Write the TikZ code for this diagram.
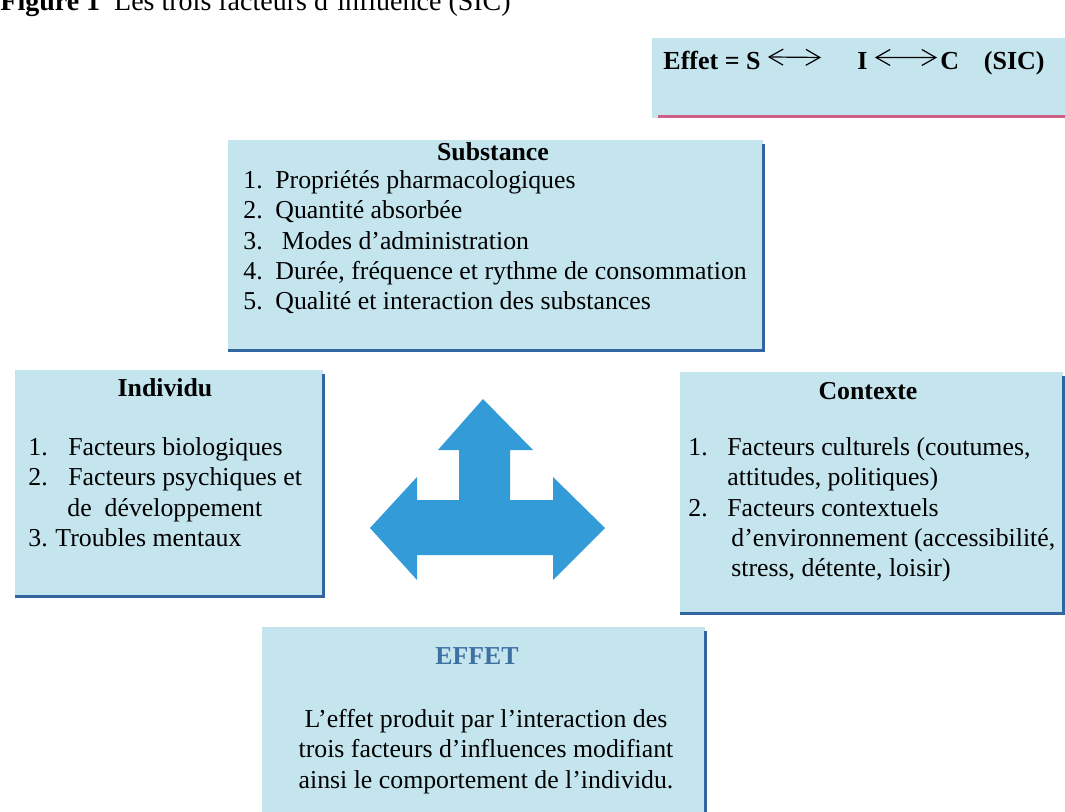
\documentclass[tikz,border=0pt]{standalone}
\usepackage{fontspec}
\setmainfont{Liberation Serif}
\usetikzlibrary{arrows.meta,positioning}

\definecolor{boxfill}{RGB}{196,229,238}
\definecolor{boxedge}{RGB}{50,102,160}
\definecolor{arrowblue}{RGB}{50,155,216}
\definecolor{pinkline}{RGB}{206,96,136}
\definecolor{effetblue}{RGB}{62,112,164}

% numbered line and hanging line
\newcommand{\itm}[3][19.5pt]{\makebox[#1][l]{#2}#3}
\newcommand{\hang}[1][19.5pt]{\hspace*{#1}}

\begin{document}
\begin{tikzpicture}[x=0.5pt,y=-0.5pt,
  txt/.style={font=\fontsize{12.9}{15.2}\selectfont, inner sep=0pt, align=left},
  head/.style={font=\fontsize{12.9}{15}\selectfont\bfseries, inner sep=0pt},
  eqtxt/.style={font=\fontsize{13}{15}\selectfont\bfseries, inner sep=0pt, anchor=base west},
  panel/.style={fill=boxfill, inner sep=0pt, anchor=north west},
  rim/.style={draw=boxedge, line width=1.6pt},
  twoway/.style={{Straight Barb[length=7pt,width=8pt]}-{Straight Barb[length=7pt,width=8pt]}, line width=0.6pt},
]
\useasboundingbox (0,0) rectangle (1065,812);

% title, cut at the top
\node[anchor=base west, inner sep=0pt, font=\fontsize{14}{16}\selectfont] (title) at (0,11)
  {\textbf{Figure 1}\ \ Les trois facteurs d'influence (SIC)};

% formula box
\node[panel, minimum width=206.5pt, minimum height=40pt] (eq) at (652,38) {};
\draw[pinkline, line width=1.6pt] ([xshift=3pt,yshift=1pt]eq.south west) -- ([yshift=1pt]eq.south east);
\node[eqtxt] (effS) at (663,70) {Effet = S};
\node[eqtxt] (symI) at (857,70) {I};
\node[eqtxt] (symC) at (940,70) {C};
\node[eqtxt, anchor=base east] (sic) at (1045,70) {(SIC)};
\draw[twoway] ([xshift=3.5pt,yshift=2pt]effS.east) -- ([xshift=-18pt,yshift=2pt]symI.west);
\draw[twoway] ([xshift=3.5pt,yshift=2pt]symI.east) -- ([xshift=-1.5pt,yshift=2pt]symC.west);

% Substance
\node[panel, minimum width=267.5pt, minimum height=105pt] (subst) at (228,140) {};
\draw[rim] ([yshift=-2pt]subst.north east) -- (subst.south east) -- (subst.south west);
\node[head, anchor=base] (substT) at (493,161) {Substance};
\node[txt, anchor=north west] (substL) at (243,170) {%
  \itm[16pt]{1.}{Propriétés pharmacologiques}\\
  \itm[16pt]{2.}{Quantité absorbée}\\
  \itm[16pt]{3.}{\ Modes d'administration}\\
  \itm[16pt]{4.}{Durée, fréquence et rythme de consommation}\\
  \itm[16pt]{5.}{Qualité et interaction des substances}};

% Individu
\node[panel, minimum width=154pt, minimum height=113pt] (indiv) at (15,370) {};
\draw[rim] ([yshift=-2pt]indiv.north east) -- (indiv.south east) -- (indiv.south west);
\node[head, anchor=base] (indivT) at (165,397) {Individu};
\node[txt, anchor=north west] (indivL) at (28,437) {%
  \itm[20pt]{1.}{Facteurs biologiques}\\
  \itm[20pt]{2.}{Facteurs psychiques et}\\
  \hang[19.5pt]de\ \ développement\\
  \itm[13.5pt]{3.}{Troubles mentaux}};

% Contexte
\node[panel, minimum width=191.5pt, minimum height=120.5pt] (ctx) at (680,372) {};
\draw[rim] ([yshift=-2pt]ctx.north east) -- (ctx.south east) -- (ctx.south west);
\node[head, anchor=base] (ctxT) at (868,400) {Contexte};
\node[txt, anchor=north west] (ctxL) at (688,437) {%
  \itm{1.}{Facteurs culturels (coutumes,}\\
  \hang attitudes, politiques)\\
  \itm{2.}{Facteurs contextuels}\\
  \hang[21.5pt]d'environnement (accessibilité,\\
  \hang[21.5pt]stress, détente, loisir)};

% Effet
\node[panel, minimum width=221.5pt, minimum height=93pt] (eff) at (262,627) {};
\draw[rim] ([yshift=-2pt]eff.north east) -- (eff.south east);
\node[head, anchor=base, text=effetblue] (effT) at (477,664) {EFFET};
\node[txt, align=center, anchor=north] (effL) at (486,709) {%
  L'effet produit par l'interaction des\\
  trois facteurs d'influences modifiant\\
  ainsi le comportement de l'individu.};

% three-way arrow
\fill[arrowblue] (483,399) -- (533,450) -- (510,450) -- (510,500) -- (553,500)
  -- (553,477) -- (605,528) -- (553,580) -- (553,555) -- (417,555) -- (417,580)
  -- (370,528) -- (417,477) -- (417,500) -- (459,500) -- (459,450) -- (438,450) -- cycle;
\end{tikzpicture}
\end{document}
